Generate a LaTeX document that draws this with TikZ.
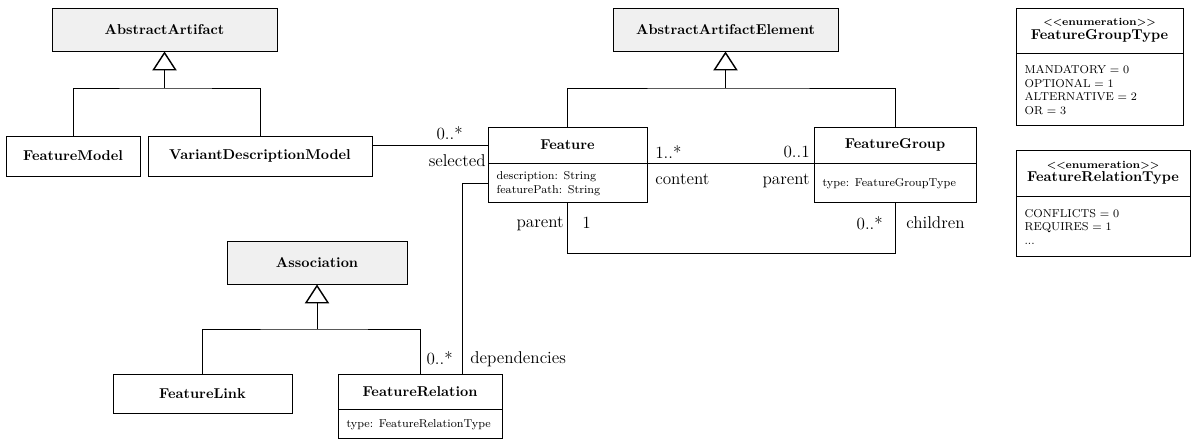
\documentclass[tikz,border=0pt]{standalone}
\usepackage{tikz}
\usetikzlibrary{arrows.meta}
\usetikzlibrary{calc}

\begin{document}
\begin{tikzpicture}[x=0.7pt, y=-0.7pt,
  cls/.style={draw, line width=0.65pt, font=\bfseries, inner sep=0pt},
  abstr/.style={cls, fill=black!6},
  attr/.style={draw, line width=0.65pt, font=\footnotesize, align=left, anchor=north, text width=#1, inner xsep=6pt, inner ysep=0pt},
  lbl/.style={font=\large, inner sep=0pt},
  gen/.style={line width=0.65pt, -{Triangle[open, length=13.3pt, width=17pt, line width=1pt]}},
  assoc/.style={line width=0.65pt}]
\path[use as bounding box] (0,0) rectangle (1191,439);

\node[abstr, minimum width=157.5pt, minimum height=30.1pt] (aa) at (164.5,29.5) {AbstractArtifact};
\node[cls, minimum width=93.8pt, minimum height=28pt] (fm) at (73,156) {FeatureModel};
\node[cls, minimum width=156.8pt, minimum height=28pt] (vdm) at (260,156) {VariantDescriptionModel};
\node[abstr, minimum width=157.5pt, minimum height=30.1pt] (aae) at (725.5,29.5) {AbstractArtifactElement};
\node[cls, minimum width=111.3pt, minimum height=25.2pt] (feat) at (567.5,145) {Feature};
\node[attr=99.3pt, minimum height=27.3pt] (feata) at (feat.south) {description: String\\featurePath: String};
\node[cls, minimum width=113.4pt, minimum height=25.2pt] (fg) at (895,145) {FeatureGroup};
\node[attr=101.4pt, minimum height=27.3pt] (fga) at (fg.south) {type: FeatureGroupType};
\node[abstr, minimum width=126pt, minimum height=30.1pt] (asc) at (317,262.5) {Association};
\node[cls, minimum width=125.3pt, minimum height=27.3pt] (fl) at (202.5,393.5) {FeatureLink};
\node[cls, minimum width=114.8pt, minimum height=24.5pt] (fr) at (420,391.5) {FeatureRelation};
\node[attr=102.8pt, minimum height=20.3pt] (fra) at (fr.south) {type: FeatureRelationType};
\node[cls, align=center, minimum width=116.9pt, minimum height=31.5pt] (fgt) at (1099.5,30.5) {{\fontsize{7.4}{8}\selectfont <\kern0pt<enumeration>\kern0pt>}\\[-2.5pt]FeatureGroupType};
\node[attr=104.9pt, minimum height=50.4pt] (fgta) at (fgt.south) {MANDATORY $=$ 0\\OPTIONAL $=$ 1\\ALTERNATIVE $=$ 2\\OR $=$ 3};
\node[cls, align=center, minimum width=121.8pt, minimum height=32.2pt] (frt) at (1103,173) {{\fontsize{7.4}{8}\selectfont <\kern0pt<enumeration>\kern0pt>}\\[-2.5pt]FeatureRelationType};
\node[attr=109.8pt, minimum height=42pt] (frta) at (frt.south) {CONFLICTS $=$ 0\\REQUIRES $=$ 1\\...};

\coordinate (aaj) at (164.5,88);
\coordinate (aaej) at (725.5,88);
\coordinate (ascj) at (317,329);
\draw[assoc] (fm.north) |- (aaj) -| (vdm.north);
\draw[gen] (aaj) -- (aa.south);
\draw[assoc] (feat.north) |- (aaej) -| (fg.north);
\draw[gen] (aaej) -- (aae.south);
\draw[assoc] (fl.north) |- (ascj) -| (fr.north);
\draw[gen] (ascj) -- (asc.south);

\draw[assoc] (vdm.east |- feat.west) -- (feat.west);
\draw[assoc] (feat.south east) -- (fg.south west);
\draw[assoc] (feata.south) -- ++(0,50) -| (fga.south);
\draw[assoc] (feata.west) -| ([xshift=-28.35pt]fr.north east);

\node[lbl, anchor=east] (selm) at (463,133) {0..*};
\node[lbl, anchor=east] (selr) at (486,161) {selected};
\node[lbl, anchor=west] (conm) at (655,152) {1..*};
\node[lbl, anchor=west] (conr) at (655,179) {content};
\node[lbl, anchor=east] (parm) at (810,152) {0..1};
\node[lbl, anchor=east] (parr) at (810,181) {parent};
\node[lbl, anchor=east] (chpr) at (564,224) {parent};
\node[lbl, anchor=west] (chpm) at (582,223) {1};
\node[lbl, anchor=east] (chim) at (883,223) {0..*};
\node[lbl, anchor=west] (chir) at (906,223) {children};
\node[lbl, anchor=east] (depm) at (453,358) {0..*};
\node[lbl, anchor=west] (depr) at (470,359) {dependencies};
\end{tikzpicture}
\end{document}
